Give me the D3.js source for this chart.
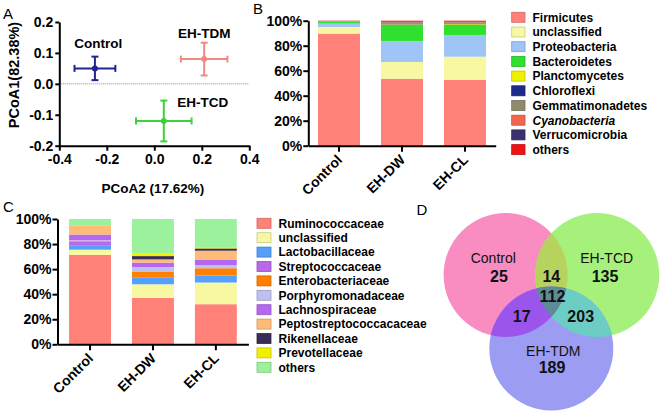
<!DOCTYPE html>
<html><head><meta charset="utf-8">
<script src="https://cdn.jsdelivr.net/npm/d3@7"></script>
<style>
body{margin:0;background:#fff}
svg{display:block}
text{font-family:"Liberation Sans",Arial,sans-serif}
</style>
</head><body>
<svg id="chart" width="661" height="411"></svg>
<script>
// ---------- Panel A : PCoA ----------
const pcoaGroups = ["Control", "EH-TDM", "EH-TCD"];
const pcoaX = [-0.25, 0.21, 0.04];
const pcoaXErr = [0.086, 0.098, 0.117];
const pcoaY = [0.05, 0.08, -0.12];
const pcoaYErr = [0.038, 0.053, 0.066];
const pcoaColors = ["#1f268f", "#f28a84", "#3cd23c"];
const pcoaXTicks = [-0.4, -0.2, 0.0, 0.2, 0.4];
const pcoaYTicks = [-0.2, -0.1, 0.0, 0.1, 0.2];

// ---------- Panel B : phyla ----------
const phylaSamples = ["Control", "EH-DW", "EH-CL"];
const phylaNames = ["Firmicutes", "unclassified", "Proteobacteria", "Bacteroidetes", "Planctomycetes",
  "Chloroflexi", "Gemmatimonadetes", "Cyanobacteria", "Verrucomicrobia", "others"];
const firmicutes       = [89.7, 53.6, 52.6];
const unclassifiedB    = [5.3, 13.4, 18.6];
const proteobacteria   = [2.7, 16.8, 17.4];
const bacteroidetes    = [1.3, 12.8, 8.0];
const planctomycetes   = [0.2, 0.5, 0.6];
const chloroflexi      = [0.1, 0.6, 0.3];
const gemmatimonadetes = [0.2, 0.7, 1.2];
const cyanobacteria    = [0.2, 0.3, 0.2];
const verrucomicrobia  = [0.1, 0.5, 0.4];
const othersB          = [0.2, 0.8, 0.7];
const phylaColors = ["#ff8178", "#f8f8a2", "#9fc4f6", "#2fe02f", "#eef200", "#1f2a8a", "#8e8a6c", "#f2644e", "#3a3270", "#ee1414"];
const percentTicks = [0, 20, 40, 60, 80, 100];

// ---------- Panel C : families ----------
const familySamples = ["Control", "EH-DW", "EH-CL"];
const familyNames = ["Ruminococcaceae", "unclassified", "Lactobacillaceae", "Streptococcaceae", "Enterobacteriaceae",
  "Porphyromonadaceae", "Lachnospiraceae", "Peptostreptococcacaceae", "Rikenellaceae", "Prevotellaceae", "others"];
const ruminococcaceae    = [71.3, 37.0, 32.0];
const unclassifiedC      = [4.2, 10.9, 17.3];
const lactobacillaceae   = [3.6, 5.3, 5.3];
const streptococcaceae   = [2.9, 0.5, 0.4];
const enterobacteriaceae = [0.6, 4.0, 5.7];
const porphyromonadaceae = [0.4, 4.0, 2.6];
const lachnospiraceae    = [4.6, 3.5, 4.0];
const peptostreptococc   = [7.0, 2.6, 7.4];
const rikenellaceae      = [0.1, 2.6, 1.8];
const prevotellaceae     = [0.1, 1.9, 0.5];
const othersC            = [5.2, 27.7, 23.0];
const familyColors = ["#ff8178", "#f8f8a2", "#55a0fa", "#b868e8", "#ff8000", "#c0c0f0", "#b468f0", "#ffbb78", "#3a2c55", "#f0f000", "#9cf29c"];

// ---------- Panel D : Venn ----------
const vennSets = ["Control", "EH-TCD", "EH-TDM"];
const vennUnique = [25, 135, 189];
const vennPairLabels = ["14", "17", "203"]; // Control∩TCD, Control∩TDM, TCD∩TDM
const vennAll = 112;

const svg = d3.select("#chart");
const FONT = "\"Liberation Sans\",Arial,sans-serif";

function styleAxis(g) {
  g.selectAll("path.domain").attr("stroke", "#000").attr("stroke-width", 2);
  g.selectAll(".tick line").attr("stroke", "#000").attr("stroke-width", 2);
  g.selectAll("text").attr("font-size", 14).attr("font-weight", "bold").attr("fill", "#000").attr("font-family", FONT);
}

// Panel letters
[["A", 3, 18.5], ["B", 253, 13.5], ["C", 3, 212], ["D", 416.5, 215]].forEach(([t, x, y]) => {
  svg.append("text").attr("x", x).attr("y", y).attr("font-size", 15).text(t);
});

// ================= A =================
{
  const x = d3.scaleLinear().domain([-0.4, 0.4]).range([59.3, 249.3]);
  const y = d3.scaleLinear().domain([-0.2, 0.2]).range([145.7, 22]);
  const gA = svg.append("g");
  // zero line
  gA.append("line").attr("x1", x(-0.4)).attr("x2", x(0.4)).attr("y1", y(0)).attr("y2", y(0))
    .attr("stroke", "#888").attr("stroke-width", 1).attr("stroke-dasharray", "1,1");
  const xa = gA.append("g").attr("transform", `translate(0,${y(-0.2)})`)
    .call(d3.axisBottom(x).tickValues(pcoaXTicks).tickFormat(d3.format(".1f")).tickSize(5).tickPadding(3).tickSizeOuter(0));
  styleAxis(xa);
  const ya = gA.append("g").attr("transform", `translate(${x(-0.4)},0)`)
    .call(d3.axisLeft(y).tickValues(pcoaYTicks).tickFormat(d3.format(".1f")).tickSize(4).tickPadding(2).tickSizeOuter(0));
  styleAxis(ya);
  xa.selectAll("text").text(d => d3.format(".1f")(d).replace("−", "-"));
  ya.selectAll("text").text(d => d3.format(".1f")(d).replace("−", "-"));

  pcoaGroups.forEach((g, i) => {
    const c = pcoaColors[i];
    const cx = x(pcoaX[i]), cy = y(pcoaY[i]);
    const x0 = x(pcoaX[i] - pcoaXErr[i]), x1 = x(pcoaX[i] + pcoaXErr[i]);
    const y0 = y(pcoaY[i] - pcoaYErr[i]), y1 = y(pcoaY[i] + pcoaYErr[i]);
    const e = gA.append("g").attr("stroke", c).attr("stroke-width", 2).attr("fill", "none");
    e.append("line").attr("x1", x0).attr("x2", x1).attr("y1", cy).attr("y2", cy);
    e.append("line").attr("x1", x0).attr("x2", x0).attr("y1", cy - 3.5).attr("y2", cy + 3.5);
    e.append("line").attr("x1", x1).attr("x2", x1).attr("y1", cy - 3.5).attr("y2", cy + 3.5);
    e.append("line").attr("x1", cx).attr("x2", cx).attr("y1", y0).attr("y2", y1);
    e.append("line").attr("x1", cx - 3.5).attr("x2", cx + 3.5).attr("y1", y0).attr("y2", y0);
    e.append("line").attr("x1", cx - 3.5).attr("x2", cx + 3.5).attr("y1", y1).attr("y2", y1);
    gA.append("circle").attr("cx", cx).attr("cy", cy).attr("r", 3).attr("fill", c);
  });
  const labPos = [[98.3, 48.3], [204.2, 38.3], [202.7, 106.7]];
  pcoaGroups.forEach((g, i) => {
    gA.append("text").attr("x", labPos[i][0]).attr("y", labPos[i][1]).attr("text-anchor", "middle")
      .attr("font-size", 13.5).attr("font-weight", "bold").text(g);
  });
  gA.append("text").attr("x", 152.8).attr("y", 193.3).attr("text-anchor", "middle")
    .attr("font-size", 13.5).attr("font-weight", "bold").text("PCoA2 (17.62%)");
  gA.append("text").attr("transform", "translate(18.5,75) rotate(-90)").attr("text-anchor", "middle")
    .attr("font-size", 14.5).attr("font-weight", "bold").text("PCoA1(82.38%)");
}

// ================= stacked bars helper =================
function stackedPanel(opts) {
  const { samples, names, series, colors, yAxisX, yTop, yBottom, xEnd, padOuter, legendX, legendY0, legendStep, legendW, italic } = opts;
  const g = svg.append("g");
  const rows = samples.map((s, i) => {
    const r = { sample: s };
    names.forEach((n, k) => r[n] = series[k][i]);
    return r;
  });
  const stacked = d3.stack().keys(names)(rows);
  const x = d3.scaleBand().domain(samples).range([yAxisX, xEnd]).paddingInner(1 / 3).paddingOuter(padOuter);
  const y = d3.scaleLinear().domain([0, 100]).range([yBottom, yTop]);
  stacked.forEach((layer, k) => {
    g.append("g").attr("fill", colors[k]).selectAll("rect").data(layer).enter().append("rect")
      .attr("x", d => x(d.data.sample)).attr("width", x.bandwidth())
      .attr("y", d => y(d[1])).attr("height", d => Math.max(0, y(d[0]) - y(d[1])));
  });
  const xa = g.append("g").attr("transform", `translate(0,${yBottom})`)
    .call(d3.axisBottom(x).tickSize(6).tickSizeOuter(0));
  styleAxis(xa);
  xa.selectAll("text").attr("text-anchor", "end").attr("dy", null)
    .attr("transform", "translate(4,15) rotate(-45)").attr("y", 0).attr("x", 0);
  const ya = g.append("g").attr("transform", `translate(${yAxisX},0)`)
    .call(d3.axisLeft(y).tickValues(percentTicks).tickFormat(d => d + "%").tickSize(5).tickPadding(1).tickSizeOuter(0));
  styleAxis(ya);
  // legend
  names.forEach((n, k) => {
    const cy = legendY0 + k * legendStep;
    g.append("rect").attr("x", legendX).attr("y", cy - 5).attr("width", legendW).attr("height", 10)
      .attr("fill", colors[k]).attr("stroke", d3.color(colors[k]).darker(0.6)).attr("stroke-width", 0.8);
    g.append("text").attr("x", legendX + legendW + 7.5).attr("y", cy).attr("dy", "0.36em")
      .attr("font-size", 12).attr("font-weight", "bold")
      .attr("font-style", italic && italic.includes(n) ? "italic" : null).text(n);
  });
}

// ================= B =================
stackedPanel({
  samples: phylaSamples, names: phylaNames,
  series: [firmicutes, unclassifiedB, proteobacteria, bacteroidetes, planctomycetes, chloroflexi, gemmatimonadetes, cyanobacteria, verrucomicrobia, othersB],
  colors: phylaColors, yAxisX: 308.3, yTop: 20.7, yBottom: 145.7, xEnd: 495.7, padOuter: 0.154,
  legendX: 511.7, legendY0: 17.3, legendStep: 14.7, legendW: 13.3, italic: ["Cyanobacteria"]
});

// ================= C =================
stackedPanel({
  samples: familySamples, names: familyNames,
  series: [ruminococcaceae, unclassifiedC, lactobacillaceae, streptococcaceae, enterobacteriaceae, porphyromonadaceae, lachnospiraceae, peptostreptococc, rikenellaceae, prevotellaceae, othersC],
  colors: familyColors, yAxisX: 57.5, yTop: 219, yBottom: 344.3, xEnd: 248.4, padOuter: 0.184,
  legendX: 257, legendY0: 223.3, legendStep: 14.4, legendW: 14
});

// ================= D : Venn =================
{
  const circles = [
    { cx: 505.6, cy: 275, r: 62 },   // Control
    { cx: 597.2, cy: 275, r: 62 },   // EH-TCD
    { cx: 551.3, cy: 348.5, r: 62 }  // EH-TDM
  ];
  const baseColors = ["#f98cc0", "#a6f07c", "#9c9cf2"];
  const pairColors = { "01": "#b6d35e", "02": "#9c55ec", "12": "#6ccdc4" };
  const allColor = "#5e8b98";
  const g = svg.append("g");
  const defs = svg.append("defs");
  circles.forEach((c, i) => {
    defs.append("clipPath").attr("id", "vc" + i).append("circle").attr("cx", c.cx).attr("cy", c.cy).attr("r", c.r);
  });
  circles.forEach((c, i) => g.append("circle").attr("cx", c.cx).attr("cy", c.cy).attr("r", c.r).attr("fill", baseColors[i]));
  Object.entries(pairColors).forEach(([k, col]) => {
    const a = +k[0], b = +k[1];
    g.append("g").attr("clip-path", `url(#vc${a})`).append("circle")
      .attr("cx", circles[b].cx).attr("cy", circles[b].cy).attr("r", circles[b].r).attr("fill", col);
  });
  g.append("g").attr("clip-path", "url(#vc0)").append("g").attr("clip-path", "url(#vc1)").append("circle")
    .attr("cx", circles[2].cx).attr("cy", circles[2].cy).attr("r", circles[2].r).attr("fill", allColor);

  const labelPos = [[493.3, 257.7], [606.7, 257.7], [553.3, 351]];
  const uniquePos = [[499, 276], [605, 276], [552, 367.7]];
  vennSets.forEach((s, i) => {
    g.append("text").attr("x", labelPos[i][0]).attr("y", labelPos[i][1]).attr("dy", "0.36em")
      .attr("text-anchor", "middle").attr("font-size", 14).attr("fill", "#111").text(s);
    g.append("text").attr("x", uniquePos[i][0]).attr("y", uniquePos[i][1]).attr("dy", "0.36em")
      .attr("text-anchor", "middle").attr("font-size", 16).attr("font-weight", "bold").attr("fill", "#111").text(vennUnique[i]);
  });
  const pairPos = [[551.3, 276.7], [521.7, 316.7], [580.7, 316.7]];
  vennPairLabels.forEach((t, i) => {
    g.append("text").attr("x", pairPos[i][0]).attr("y", pairPos[i][1]).attr("dy", "0.36em")
      .attr("text-anchor", "middle").attr("font-size", 16).attr("font-weight", "bold").attr("fill", "#111").text(t);
  });
  g.append("text").attr("x", 552.5).attr("y", 296.7).attr("dy", "0.36em")
    .attr("text-anchor", "middle").attr("font-size", 16).attr("font-weight", "bold").attr("fill", "#111").text(vennAll);
}
</script>
</body></html>
